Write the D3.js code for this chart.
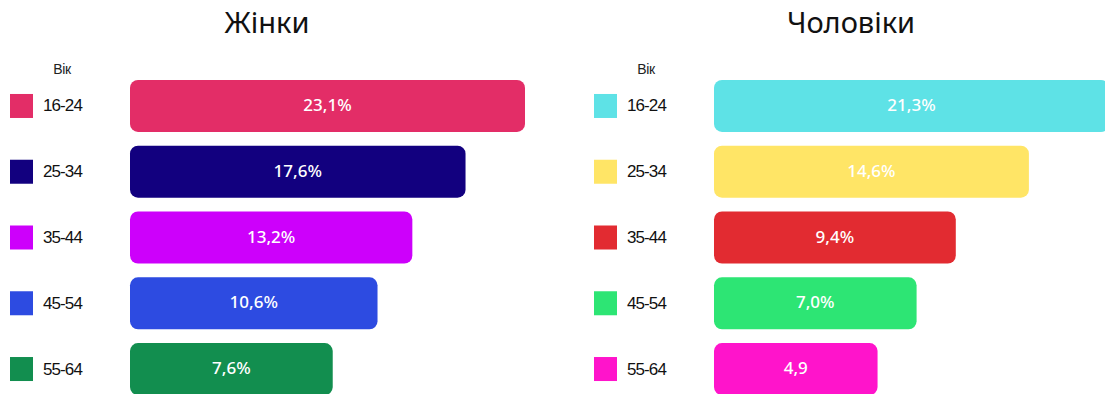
<!DOCTYPE html>
<html>
<head>
<meta charset="utf-8"/>
<script src="https://d3js.org/d3.v7.min.js"></script>
<style>
  body { margin: 0; background: #fff; overflow: hidden; }
  .title { font-family: "Noto Sans", sans-serif; font-size: 29px; fill: #111; }
  .age { font-family: "Liberation Sans", sans-serif; font-size: 17px; letter-spacing: -0.9px; fill: #111; }
  .head { font-family: "Liberation Sans", sans-serif; font-size: 14px; letter-spacing: -0.4px; fill: #222; }
  .val { font-family: "Noto Sans", sans-serif; font-size: 17px; font-weight: 500; fill: #fff; }
</style>
</head>
<body>
<svg id="svg" width="1105" height="394"></svg>
<script>

var ageGroups = ["16-24", "25-34", "35-44", "45-54", "55-64"];

var womenValues = [23.1, 17.6, 13.2, 10.6, 7.6];
var womenLabels = ["23,1%", "17,6%", "13,2%", "10,6%", "7,6%"];
var womenColors = ["#e32d67", "#12007f", "#cd00fb", "#2d4be1", "#128e4f"];

var menValues = [21.3, 14.6, 9.4, 7.0, 4.9];
var menLabels = ["21,3%", "14,6%", "9,4%", "7,0%", "4,9"];
var menColors = ["#5ee2e6", "#ffe566", "#e22b31", "#2de574", "#ff14cb"];

var svg = d3.select("#svg");

var y = d3.scaleBand()
    .domain(ageGroups)
    .range([80, 395])
    .paddingInner(0.21)
    .paddingOuter(0);

var barLeft = 130, barMax = 395;

function drawPanel(offset, title, values, labels, colors) {
  var g = svg.append("g").attr("transform", "translate(" + offset + ",0)");

  // bar lengths follow the funnel look of the original
  var x = d3.scalePow().exponent(0.6)
      .domain([0, d3.max(values)])
      .range([0, barMax]);

  var rows = ageGroups.map(function(a, i) {
    return { age: a, value: values[i], label: labels[i], color: colors[i] };
  });

  g.append("text")
    .attr("class", "title")
    .attr("x", 267)
    .attr("y", 33)
    .attr("text-anchor", "middle")
    .text(title);

  g.append("text")
    .attr("class", "head")
    .attr("x", 62)
    .attr("y", 74)
    .attr("text-anchor", "middle")
    .text("Вік");

  var row = g.selectAll(".row")
    .data(rows)
    .enter().append("g")
    .attr("class", "row");

  row.append("rect")
    .attr("x", 10)
    .attr("y", function(d) { return y(d.age) + y.bandwidth() / 2 - 12; })
    .attr("width", 23)
    .attr("height", 24)
    .attr("fill", function(d) { return d.color; });

  row.append("text")
    .attr("class", "age")
    .attr("x", 43)
    .attr("y", function(d) { return y(d.age) + y.bandwidth() / 2 + 5.5; })
    .text(function(d) { return d.age; });

  row.append("rect")
    .attr("x", barLeft)
    .attr("y", function(d) { return y(d.age); })
    .attr("width", function(d) { return x(d.value); })
    .attr("height", y.bandwidth())
    .attr("rx", 8)
    .attr("ry", 8)
    .attr("fill", function(d) { return d.color; });

  row.append("text")
    .attr("class", "val")
    .attr("x", function(d) { return barLeft + x(d.value) / 2; })
    .attr("y", function(d) { return y(d.age) + y.bandwidth() / 2 + 5; })
    .attr("text-anchor", "middle")
    .text(function(d) { return d.label; });
}

drawPanel(0, "Жінки", womenValues, womenLabels, womenColors);
drawPanel(584, "Чоловіки", menValues, menLabels, menColors);

</script>
</body>
</html>
